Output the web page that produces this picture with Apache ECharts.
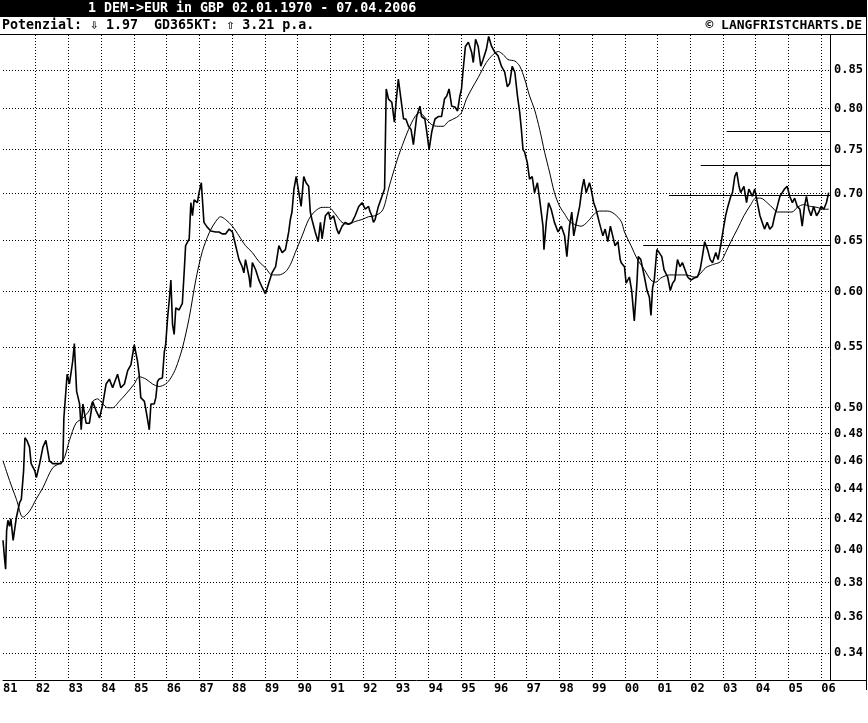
<!DOCTYPE html>
<html><head><meta charset="utf-8">
<script src="https://cdn.jsdelivr.net/npm/echarts@6/dist/echarts.min.js"></script>
<style>html,body{margin:0;padding:0;background:#fff}#c{width:868px;height:723px}</style>
</head><body><div id="c"></div>
<script>
const titleText = '1 DEM->EUR in GBP 02.01.1970 - 07.04.2006';
const infoText = 'Potenzial: \u21E9 1.97  GD365KT: \u21E7 3.21 p.a.';
const copyText = '\u00A9 LANGFRISTCHARTS.DE';
const yearTicks = [1981,1982,1983,1984,1985,1986,1987,1988,1989,1990,1991,1992,1993,1994,1995,1996,1997,1998,1999,2000,2001,2002,2003,2004,2005,2006];
const valueTicks = [0.34,0.36,0.38,0.40,0.42,0.44,0.46,0.48,0.50,0.55,0.60,0.65,0.70,0.75,0.80,0.85];
const xRange = [1981.0, 2006.27];
const yRange = [0.326, 0.898];
const resistLevels = [0.7715, 0.7313, 0.6977, 0.6449];
const resistStarts = [2003.11, 2002.32, 2001.35, 2000.56];

const prices = [[1981.00,0.406],[1981.05,0.394],[1981.08,0.388],[1981.11,0.412],[1981.15,0.419],[1981.20,0.415],[1981.24,0.420],[1981.31,0.406],[1981.35,0.412],[1981.41,0.421],[1981.51,0.431],[1981.56,0.433],[1981.63,0.453],[1981.67,0.477],[1981.73,0.475],[1981.81,0.470],[1981.86,0.458],[1981.97,0.453],[1982.02,0.448],[1982.12,0.458],[1982.22,0.470],[1982.31,0.475],[1982.42,0.460],[1982.52,0.458],[1982.61,0.458],[1982.77,0.458],[1982.83,0.460],[1982.86,0.492],[1982.96,0.527],[1983.03,0.519],[1983.13,0.538],[1983.18,0.553],[1983.25,0.513],[1983.34,0.503],[1983.39,0.483],[1983.44,0.503],[1983.54,0.488],[1983.64,0.488],[1983.74,0.505],[1983.84,0.498],[1983.95,0.492],[1984.05,0.503],[1984.15,0.519],[1984.25,0.523],[1984.35,0.516],[1984.50,0.527],[1984.60,0.516],[1984.71,0.519],[1984.81,0.530],[1984.91,0.535],[1985.01,0.552],[1985.11,0.538],[1985.16,0.527],[1985.21,0.508],[1985.32,0.505],[1985.37,0.498],[1985.47,0.483],[1985.52,0.503],[1985.62,0.503],[1985.67,0.508],[1985.72,0.521],[1985.77,0.523],[1985.87,0.524],[1985.93,0.546],[1985.97,0.552],[1986.03,0.576],[1986.08,0.592],[1986.13,0.611],[1986.18,0.570],[1986.23,0.561],[1986.28,0.585],[1986.38,0.583],[1986.48,0.589],[1986.54,0.621],[1986.58,0.645],[1986.69,0.652],[1986.74,0.690],[1986.79,0.676],[1986.84,0.693],[1986.94,0.690],[1986.99,0.701],[1987.06,0.712],[1987.14,0.669],[1987.24,0.664],[1987.35,0.660],
[1987.40,0.662],[1987.50,0.659],[1987.60,0.659],[1987.70,0.657],[1987.80,0.657],[1987.91,0.662],[1988.01,0.659],[1988.16,0.638],[1988.21,0.631],[1988.31,0.624],[1988.36,0.618],[1988.41,0.631],[1988.52,0.614],[1988.56,0.604],[1988.62,0.628],[1988.72,0.621],[1988.82,0.611],[1988.92,0.604],[1989.02,0.598],[1989.12,0.608],[1989.22,0.618],[1989.33,0.624],[1989.43,0.645],[1989.53,0.638],[1989.63,0.641],[1989.73,0.659],[1989.78,0.672],[1989.83,0.680],[1989.89,0.705],[1989.96,0.719],[1990.04,0.701],[1990.11,0.686],[1990.19,0.719],[1990.26,0.712],[1990.34,0.708],[1990.39,0.680],[1990.44,0.672],[1990.54,0.659],[1990.63,0.649],[1990.70,0.669],[1990.75,0.652],[1990.85,0.676],[1990.95,0.680],[1991.00,0.672],[1991.10,0.676],[1991.20,0.662],[1991.26,0.657],[1991.36,0.665],[1991.46,0.669],[1991.56,0.667],[1991.66,0.669],[1991.76,0.676],[1991.87,0.686],[1991.97,0.690],[1992.07,0.683],[1992.17,0.686],[1992.22,0.680],[1992.27,0.676],[1992.32,0.669],[1992.37,0.672],[1992.47,0.686],[1992.58,0.697],[1992.66,0.705],[1992.71,0.825],[1992.78,0.812],[1992.88,0.808],[1992.96,0.783],[1993.01,0.808],[1993.08,0.838],[1993.16,0.812],[1993.24,0.787],[1993.31,0.787],[1993.39,0.778],[1993.47,0.774],[1993.54,0.756],[1993.64,0.790],[1993.74,0.803],[1993.79,0.790],
[1993.89,0.787],[1993.95,0.771],[1994.02,0.750],[1994.10,0.771],[1994.20,0.787],[1994.30,0.790],[1994.40,0.790],[1994.49,0.812],[1994.56,0.816],[1994.63,0.825],[1994.71,0.803],[1994.81,0.802],[1994.89,0.797],[1994.96,0.816],[1995.01,0.825],[1995.06,0.850],[1995.13,0.882],[1995.22,0.888],[1995.32,0.874],[1995.37,0.860],[1995.44,0.892],[1995.52,0.882],[1995.60,0.855],[1995.67,0.864],[1995.77,0.878],[1995.84,0.896],[1995.93,0.882],[1996.03,0.874],[1996.13,0.869],[1996.23,0.855],[1996.33,0.847],[1996.41,0.828],[1996.48,0.832],[1996.56,0.855],[1996.64,0.847],[1996.72,0.816],[1996.79,0.795],[1996.84,0.774],[1996.89,0.750],[1996.94,0.747],[1997.02,0.735],[1997.09,0.716],[1997.17,0.719],[1997.24,0.701],[1997.33,0.712],[1997.40,0.693],[1997.50,0.665],[1997.53,0.641],[1997.60,0.669],[1997.67,0.690],[1997.75,0.683],[1997.85,0.669],[1997.96,0.659],[1998.06,0.665],[1998.16,0.655],[1998.23,0.634],[1998.31,0.665],[1998.38,0.680],[1998.44,0.655],[1998.52,0.669],[1998.62,0.686],[1998.69,0.705],[1998.75,0.716],[1998.82,0.701],[1998.92,0.712],[1998.97,0.705],[1999.05,0.690],[1999.12,0.683],[1999.22,0.669],[1999.33,0.655],[1999.40,0.662],[1999.48,0.649],[1999.56,0.665],[1999.63,0.655],[1999.70,0.645],[1999.79,0.649],[1999.86,0.631],
[1999.89,0.628],[1999.99,0.624],[2000.04,0.608],[2000.14,0.614],[2000.21,0.601],[2000.29,0.573],[2000.37,0.608],[2000.41,0.634],[2000.49,0.631],[2000.60,0.614],[2000.68,0.601],[2000.75,0.595],[2000.80,0.578],[2000.85,0.604],[2000.90,0.611],[2000.98,0.641],[2001.05,0.638],[2001.13,0.634],[2001.20,0.621],[2001.31,0.614],[2001.39,0.601],[2001.46,0.608],[2001.53,0.611],[2001.61,0.631],[2001.69,0.624],[2001.76,0.628],[2001.84,0.621],[2001.92,0.614],[2002.02,0.611],[2002.12,0.613],[2002.22,0.614],[2002.30,0.621],[2002.37,0.634],[2002.44,0.649],[2002.53,0.641],[2002.61,0.631],[2002.68,0.628],[2002.78,0.638],[2002.85,0.631],[2002.93,0.645],[2003.01,0.662],[2003.08,0.676],[2003.15,0.686],[2003.24,0.697],[2003.29,0.701],[2003.36,0.719],[2003.42,0.724],[2003.49,0.708],[2003.54,0.701],[2003.64,0.708],[2003.72,0.690],[2003.79,0.705],[2003.90,0.697],[2003.97,0.705],[2004.05,0.690],[2004.13,0.676],[2004.20,0.669],[2004.27,0.662],[2004.35,0.669],[2004.43,0.662],[2004.51,0.665],[2004.58,0.676],[2004.66,0.686],[2004.74,0.697],[2004.81,0.701],[2004.88,0.705],[2004.96,0.708],[2005.04,0.697],[2005.12,0.690],[2005.19,0.695],[2005.27,0.686],[2005.35,0.683],[2005.42,0.665],[2005.49,0.686],[2005.55,0.697],[2005.62,0.683],[2005.69,0.676],[2005.77,0.686],[2005.86,0.676],[2005.93,0.680],[2006.00,0.686],[2006.08,0.683],[2006.16,0.690],[2006.23,0.701]];

const gd365 = [[1981.00,0.460],[1981.20,0.446],[1981.41,0.433],[1981.61,0.421],[1981.81,0.425],[1982.01,0.433],[1982.22,0.441],[1982.52,0.455],[1982.83,0.460],[1983.03,0.475],[1983.23,0.488],[1983.44,0.492],[1983.64,0.498],[1983.74,0.505],[1983.89,0.507],[1984.05,0.503],[1984.20,0.500],[1984.35,0.500],[1984.55,0.505],[1984.76,0.511],[1985.01,0.519],[1985.16,0.525],[1985.37,0.523],[1985.57,0.519],[1985.77,0.517],[1985.97,0.519],[1986.13,0.524],[1986.28,0.532],[1986.48,0.549],[1986.69,0.576],[1986.89,0.611],[1987.09,0.639],[1987.30,0.658],[1987.50,0.670],[1987.65,0.675],[1987.80,0.672],[1988.01,0.665],[1988.21,0.655],[1988.41,0.645],[1988.62,0.638],[1988.82,0.629],[1989.02,0.623],[1989.22,0.616],[1989.43,0.616],[1989.63,0.619],[1989.78,0.626],[1989.93,0.638],[1990.14,0.655],[1990.34,0.672],[1990.54,0.681],[1990.75,0.685],[1990.95,0.685],[1991.15,0.678],[1991.36,0.669],[1991.56,0.667],[1991.76,0.670],[1991.97,0.672],[1992.17,0.675],[1992.37,0.676],[1992.58,0.681],[1992.68,0.690],[1992.78,0.705],[1992.93,0.724],[1993.08,0.742],[1993.24,0.759],[1993.39,0.774],[1993.59,0.790],[1993.74,0.795],[1993.89,0.789],[1994.10,0.780],[1994.30,0.778],[1994.45,0.778],[1994.61,0.784],[1994.86,0.789],[1995.01,0.795],[1995.16,0.812],[1995.32,0.825],[1995.52,0.840],[1995.77,0.860],[1995.98,0.871],[1996.13,0.875],[1996.28,0.871],[1996.43,0.864],[1996.64,0.862],[1996.79,0.855],[1996.94,0.838],[1997.09,0.816],[1997.24,0.799],[1997.40,0.774],[1997.55,0.747],[1997.70,0.724],[1997.85,0.701],[1998.01,0.686],[1998.16,0.678],[1998.31,0.670],[1998.46,0.667],[1998.67,0.665],[1998.87,0.670],[1999.07,0.678],[1999.22,0.681],[1999.48,0.681],[1999.68,0.678],[1999.89,0.670],[1999.99,0.659],[2000.19,0.645],[2000.39,0.631],[2000.60,0.621],[2000.80,0.611],[2000.95,0.609],[2001.10,0.613],[2001.36,0.616],[2001.61,0.616],[2001.87,0.616],[2002.12,0.614],[2002.27,0.616],[2002.47,0.623],[2002.68,0.626],[2002.93,0.629],[2003.08,0.638],[2003.24,0.649],[2003.44,0.662],[2003.64,0.676],[2003.85,0.688],[2004.00,0.695],[2004.15,0.695],[2004.35,0.690],[2004.56,0.683],[2004.66,0.680],[2004.86,0.680],[2005.11,0.680],[2005.27,0.685],[2005.47,0.688],[2005.67,0.686],[2005.87,0.685],[2006.08,0.683],[2006.23,0.683]];

const ln = Math.log;
const FONT = 'DejaVu Sans Mono';
const chart = echarts.init(document.getElementById('c'), null, {renderer: 'canvas'});
chart.setOption({
  animation: false,
  backgroundColor: '#fff',
  grid: {left: 0, right: 38, top: 35, bottom: 43, containLabel: false},
  xAxis: {
    type: 'value', min: xRange[0], max: xRange[1],
    axisLine: {show: true, lineStyle: {color: '#000', width: 1}},
    axisTick: {show: false, customValues: yearTicks.slice(1)},
    axisLabel: {
      customValues: yearTicks, align: 'left', margin: 3,
      color: '#000', fontFamily: FONT, fontWeight: 'bold', fontSize: 12,
      formatter: v => String(Math.round(v) % 100).padStart(2, '0')
    },
    splitLine: {show: true, lineStyle: {color: '#000', width: 1, type: [1, 2]}}
  },
  yAxis: {
    type: 'value', position: 'right',
    min: ln(yRange[0]), max: ln(yRange[1]),
    axisLine: {show: true, lineStyle: {color: '#000', width: 1}},
    axisTick: {show: false, customValues: valueTicks.map(v => ln(v))},
    axisLabel: {
      customValues: valueTicks.map(v => ln(v)), margin: 4,
      color: '#000', fontFamily: FONT, fontWeight: 'bold', fontSize: 12,
      formatter: v => Math.exp(v).toFixed(2)
    },
    splitLine: {show: true, lineStyle: {color: '#000', width: 1, type: [1, 2]}}
  },
  series: [
    {
      type: 'line', name: 'Kurs', showSymbol: false, silent: true,
      data: prices.map(p => [p[0], ln(p[1])]),
      lineStyle: {color: '#000', width: 1.6},
      markLine: {
        silent: true, symbol: ['none', 'none'], label: {show: false},
        lineStyle: {color: '#000', width: 1, type: 'solid'},
        data: resistLevels.map((lv, i) => [
          {coord: [resistStarts[i], ln(lv)]},
          {coord: [xRange[1], ln(lv)]}
        ])
      }
    },
    {
      type: 'line', name: 'GD365', showSymbol: false, silent: true, smooth: 0.3,
      data: gd365.map(p => [p[0], ln(p[1])]),
      lineStyle: {color: '#000', width: 1}
    }
  ],
  graphic: [
    {type: 'rect', left: 0, top: 0, shape: {x: 0, y: 0, width: 866, height: 17}, style: {fill: '#000'}},
    {type: 'text', x: 88, y: 9, style: {text: titleText, fill: '#fff', font: 'bold 13.3px "DejaVu Sans Mono"', textVerticalAlign: 'middle', verticalAlign: 'middle'}},
    {type: 'text', x: 2, y: 26, style: {text: infoText, fill: '#000', font: 'bold 13.3px "DejaVu Sans Mono"', verticalAlign: 'middle'}},
    {type: 'text', x: 862, y: 26, style: {text: copyText, fill: '#000', font: 'bold 13px "DejaVu Sans Mono"', align: 'right', verticalAlign: 'middle'}},
    {type: 'line', shape: {x1: 0, y1: 34.5, x2: 867, y2: 34.5}, style: {stroke: '#000', lineWidth: 1}},
    {type: 'line', shape: {x1: 866.5, y1: 0, x2: 866.5, y2: 690}, style: {stroke: '#000', lineWidth: 1}},
    {type: 'line', shape: {x1: 829, y1: 680.5, x2: 867, y2: 680.5}, style: {stroke: '#000', lineWidth: 1}}
  ]
});
</script>
</body></html>
